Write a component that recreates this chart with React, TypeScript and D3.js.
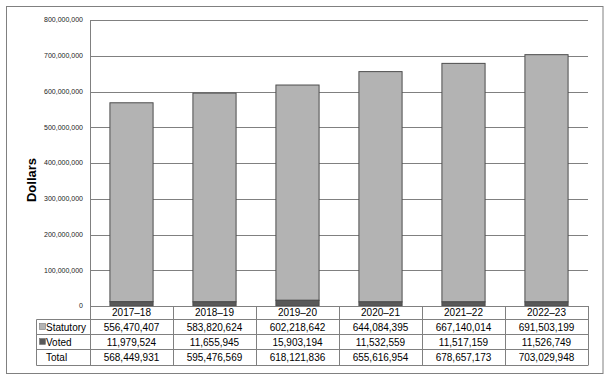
import React from "react";
import * as d3 from "d3";

const categories = ["2017–18", "2018–19", "2019–20", "2020–21", "2021–22", "2022–23"];
const statutory = [556470407, 583820624, 602218642, 644084395, 667140014, 691503199];
const voted = [11979524, 11655945, 15903194, 11532559, 11517159, 11526749];
const totals = [568449931, 595476569, 618121836, 655616954, 678657173, 703029948];
const yTicks = [0, 100000000, 200000000, 300000000, 400000000, 500000000, 600000000, 700000000, 800000000];

const W = 608, H = 383;
const plotL = 90, plotR = 588, plotT = 20, plotB = 306;
const rowY = [306, 319.5, 334.5, 349.5, 365.5];
const tableL = 36.5;
const font = "'Liberation Sans', Arial, sans-serif";
const statFill = "#b3b3b3", votedFill = "#595959", barStroke = "#4d4d4d", gridC = "#808080";

export default function App() {
  const x = d3.scaleBand<string>().domain(categories).range([plotL, plotR]).paddingInner(0.48).paddingOuter(0.24);
  const y = d3.scaleLinear().domain([0, 800000000]).range([plotB, plotT]);
  const band = (plotR - plotL) / categories.length;
  const colEdges = categories.map((_, i) => plotL + i * band).concat([plotR]);
  const fmt = d3.format(",");
  const rows = [
    { label: "Statutory", vals: statutory, swatch: statFill },
    { label: "Voted", vals: voted, swatch: votedFill },
    { label: "Total", vals: totals, swatch: null as string | null },
  ];
  return (
    <svg width={W} height={H} style={{ position: "absolute", left: 0, top: 0, fontFamily: font }}>
      <rect x={0} y={0} width={W} height={H} fill="#fff" />
      <rect x={6.5} y={6.5} width={596.5} height={367} fill="none" stroke={gridC} strokeWidth={1} />
      {yTicks.map((t) => (
        <g key={t}>
          {t > 0 && <line x1={plotL} x2={plotR} y1={Math.round(y(t)) + 0.5} y2={Math.round(y(t)) + 0.5} stroke={gridC} strokeWidth={1} />}
          <text x={83} y={y(t)} dy="0.35em" textAnchor="end" fontSize={7} fill="#222">{fmt(t)}</text>
        </g>
      ))}
      <line x1={plotL + 0.5} x2={plotL + 0.5} y1={plotT} y2={plotB} stroke={gridC} />
      <text transform={`translate(36,180) rotate(-90)`} textAnchor="middle" fontSize={13} fontWeight="bold" fill="#000">Dollars</text>
      {categories.map((c, i) => {
        const bx = x(c)!;
        const bw = x.bandwidth();
        return (
          <g key={c}>
            <rect x={bx} y={y(voted[i] + statutory[i])} width={bw} height={y(voted[i]) - y(voted[i] + statutory[i])} fill={statFill} stroke={barStroke} strokeWidth={1} />
            <rect x={bx} y={y(voted[i])} width={bw} height={y(0) - y(voted[i])} fill={votedFill} stroke={barStroke} strokeWidth={1} />
          </g>
        );
      })}
      {/* table */}
      <g stroke={gridC} strokeWidth={1} fill="none">
        <line x1={plotL} x2={plotR} y1={rowY[0] + 0.5} y2={rowY[0] + 0.5} />
        {rowY.slice(1).map((ry) => (
          <line key={ry} x1={tableL} x2={plotR} y1={ry} y2={ry} />
        ))}
        {colEdges.map((cx, i) => (
          <line key={i} x1={Math.round(cx) + 0.5} x2={Math.round(cx) + 0.5} y1={rowY[0]} y2={rowY[4]} />
        ))}
        <line x1={tableL} x2={tableL} y1={rowY[1]} y2={rowY[4]} />
      </g>
      {categories.map((c, i) => (
        <text key={c} x={plotL + (i + 0.5) * band} y={(rowY[0] + rowY[1]) / 2} dy="0.35em" textAnchor="middle" fontSize={10} fill="#000">{c}</text>
      ))}
      {rows.map((r, ri) => {
        const cy = (rowY[ri + 1] + rowY[ri + 2]) / 2;
        return (
          <g key={r.label}>
            {r.swatch && <rect x={39.5} y={cy - 3.5} width={6} height={6} fill={r.swatch} stroke="#666" strokeWidth={0.5} />}
            <text x={r.swatch ? 46 : 46} y={cy} dy="0.35em" fontSize={10} fill="#000">{r.label}</text>
            {r.vals.map((v, i) => (
              <text key={i} x={plotL + (i + 0.5) * band} y={cy} dy="0.35em" textAnchor="middle" fontSize={10} fill="#000">{fmt(v)}</text>
            ))}
          </g>
        );
      })}
    </svg>
  );
}
